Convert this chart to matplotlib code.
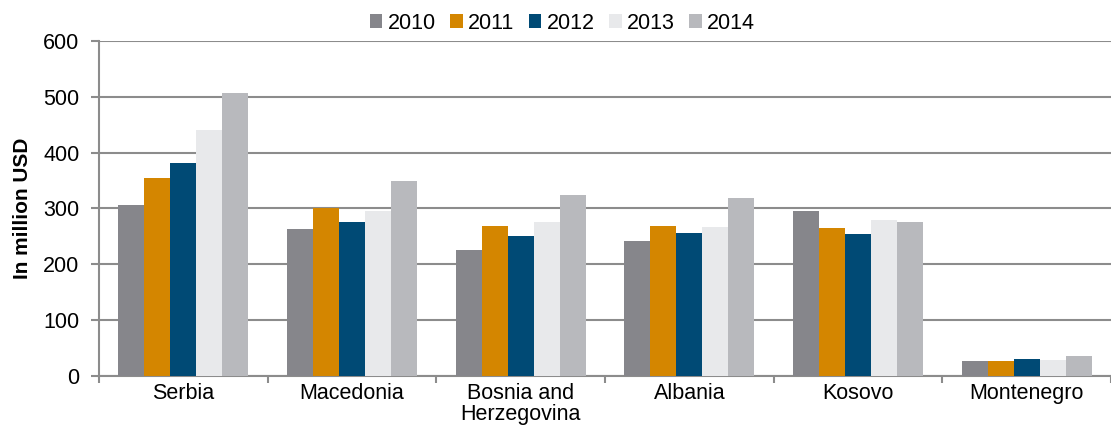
import matplotlib.pyplot as plt
import numpy as np

plt.rcParams['font.family'] = ['Liberation Sans', 'DejaVu Sans']

countries = ["Serbia", "Macedonia", "Bosnia and\nHerzegovina", "Albania", "Kosovo", "Montenegro"]
years = ["2010", "2011", "2012", "2013", "2014"]
v2010 = [306, 263, 225, 242, 295, 27]
v2011 = [355, 301, 269, 269, 265, 27]
v2012 = [381, 276, 251, 256, 254, 30]
v2013 = [441, 295, 276, 267, 279, 29]
v2014 = [507, 349, 324, 319, 276, 36]
colors = ["#86868b", "#d48600", "#004a75", "#e8e9eb", "#b8b9bd"]

series = [v2010, v2011, v2012, v2013, v2014]

fig = plt.figure(figsize=(11.11, 4.36), dpi=100)
ax = fig.add_axes([0.089, 0.138, 0.911, 0.768])

x = np.arange(len(countries))
w = 0.154
for i, (vals, col) in enumerate(zip(series, colors)):
    ax.bar(x + (i - 2) * w, vals, w, color=col, label=years[i], zorder=3)

ax.set_xlim(-0.5, len(countries) - 0.5)
ax.set_ylim(0, 600)
ax.set_yticks(range(0, 601, 100))
ax.yaxis.grid(True, color="#8c8c8c", linewidth=1.5, zorder=0)

ax.set_xticks(x)
ax.set_xticklabels(countries, fontsize=15.5, linespacing=1.0)
ax.tick_params(axis='x', length=0, pad=5)
ax.set_xticks(np.arange(-0.5, len(countries)), minor=True)
ax.tick_params(axis='x', which='minor', length=5, color="#8c8c8c", width=1.5)
ax.tick_params(axis='y', labelsize=15.5, length=6, color="#8c8c8c", width=1.5, pad=8)

for s in ["top", "right"]:
    ax.spines[s].set_visible(False)
for s in ["left", "bottom"]:
    ax.spines[s].set_color("#8c8c8c")
    ax.spines[s].set_linewidth(1.5)

ax.set_ylabel("In million USD", fontsize=15, fontweight="bold", labelpad=8)

ax.legend(loc="lower center", bbox_to_anchor=(0.458, 0.99), ncol=5, frameon=False,
          fontsize=15.5, handlelength=0.6, handleheight=0.6, handletextpad=0.25,
          columnspacing=0.65, borderaxespad=0.1)

fig.savefig("out.png", dpi=100)
